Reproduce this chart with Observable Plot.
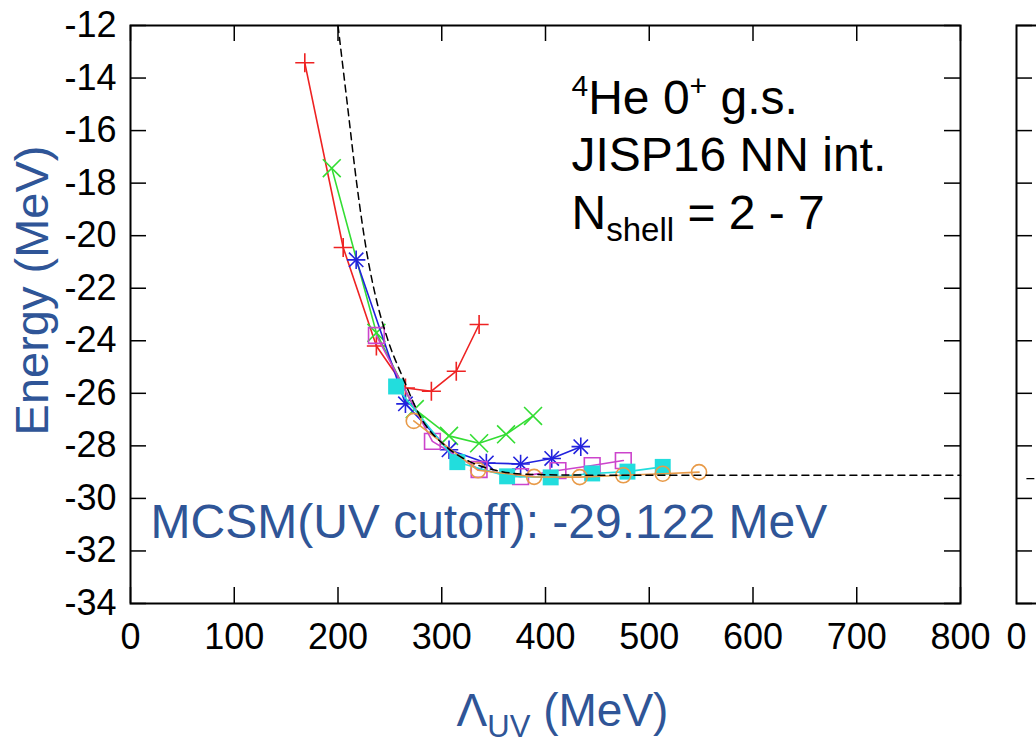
<!DOCTYPE html>
<html>
<head>
<meta charset="utf-8">
<script src="https://cdn.jsdelivr.net/npm/d3@7"></script>
<script src="https://cdn.jsdelivr.net/npm/@observablehq/plot@0.6"></script>
<style>
  html, body { margin: 0; padding: 0; background: #fff; overflow: hidden; }
  #wrap { position: relative; width: 1036px; height: 746px; overflow: hidden; background: #fff; }
  #main, #side { position: absolute; top: 0; }
  #main { left: 0; width: 1036px; }
  #side { left: 1006px; width: 900px; }
  #wrap svg { max-width: none !important; }
</style>
</head>
<body>
<div id="wrap"><div id="main"></div><div id="side"></div></div>
<script>
// ---------- data ----------
const xTicks = [0, 100, 200, 300, 400, 500, 600, 700, 800];
const yTicks = [-12, -14, -16, -18, -20, -22, -24, -26, -28, -30, -32, -34];

// N_shell = 2 (red +)
const lambdaN2 = [168, 205, 237, 265, 290, 314, 336];
const energyN2 = [-13.42, -20.45, -24.2, -25.8, -25.92, -25.16, -23.38];
// N_shell = 3 (green x)
const lambdaN3 = [194, 237, 274, 307, 336, 362, 388];
const energyN3 = [-17.43, -23.7, -26.6, -27.62, -27.9, -27.56, -26.86];
// N_shell = 4 (blue *)
const lambdaN4 = [217.5, 265, 307, 343, 376, 406, 434];
const energyN4 = [-20.92, -26.4, -28.15, -28.65, -28.69, -28.48, -28.03];
// N_shell = 5 (magenta open square)
const lambdaN5 = [237, 291, 336, 376, 412, 445, 475];
const energyN5 = [-23.8, -27.83, -28.9, -29.17, -28.94, -28.75, -28.56];
// N_shell = 6 (cyan filled square)
const lambdaN6 = [256, 315, 363, 405, 445, 479, 513];
const energyN6 = [-25.74, -28.62, -29.16, -29.2, -29.05, -28.98, -28.8];
// N_shell = 7 (orange open circle)
const lambdaN7 = [273, 335, 389, 433, 475, 513, 548];
const energyN7 = [-27.05, -28.93, -29.18, -29.19, -29.12, -29.06, -29.0];

// extrapolation curve (black dashed)
const fitLambda = [200, 209, 218, 228, 238, 247.5, 263, 279.5, 305, 328, 353, 376, 420, 500, 600, 700, 800];
const fitEnergy = [-12, -15, -18, -20.7, -22.6, -23.9, -25.45, -26.9, -28.05, -28.62, -28.94, -29.07, -29.11, -29.12, -29.122, -29.122, -29.122];

// neighbouring panel (only its left edge is visible)
const sideTicks = [0];
const sideLambda = [10, 800];
const sideEnergy = [-29.25, -29.25];

// texts
const xLabel = "ΛUV (MeV)";
const yLabel = "Energy (MeV)";
const mcsmText = "MCSM(UV cutoff): -29.122 MeV";
const noteLines = ["4He 0+ g.s.", "JISP16 NN int.", "Nshell = 2 - 7"];

// ---------- chart ----------
const W = 1036, H = 746;
const mL = 130, mR = 76, mT = 25, mB = 143;
const FW = W - mL - mR, FH = H - mT - mB;
const TICK = 16;
const blue = "#2f5597";
const font = "'Liberation Sans', Arial, Helvetica, sans-serif";
const tickFont = 36;

const table = (xs, ys) => xs.map((x, i) => ({x, y: ys[i]}));

const series = [
  {data: table(lambdaN2, energyN2), color: "#ee2222", dots: [{symbol: "plus", r: 6.2}]},
  {data: table(lambdaN3, energyN3), color: "#33dd33", dots: [{symbol: "times", r: 8.2}]},
  {data: table(lambdaN4, energyN4), color: "#2222dd", dots: [{symbol: "plus", r: 6}, {symbol: "times", r: 6.6}]},
  {data: table(lambdaN5, energyN5), color: "#cc44cc", dots: [{symbol: "square2", r: 10}]},
  {data: table(lambdaN6, energyN6), color: "#22dddd", dots: [{symbol: "square", r: 9, filled: true}]},
  {data: table(lambdaN7, energyN7), color: "#e89a48", dots: [{symbol: "circle", r: 7.5}]}
];

const seriesMarks = series.flatMap(s => [
  Plot.line(s.data, {x: "x", y: "y", stroke: s.color, strokeWidth: 1.6}),
  ...s.dots.map(d => Plot.dot(s.data, {
    x: "x", y: "y", symbol: d.symbol, r: d.r,
    fill: d.filled ? s.color : "none",
    stroke: d.filled ? "none" : s.color,
    strokeWidth: 1.6
  }))
]);

const main = Plot.plot({
  width: W, height: H,
  marginLeft: mL, marginRight: mR, marginTop: mT, marginBottom: mB,
  style: {fontFamily: font, fontSize: tickFont + "px", background: "white", color: "black"},
  x: {domain: [0, 800], label: null},
  y: {domain: [-34, -12], label: null},
  marks: [
    // inward ticks on all four sides
    Plot.ruleX(xTicks, {x: d => d, insetTop: FH - TICK, stroke: "black", strokeWidth: 1.5}),
    Plot.ruleX(xTicks, {x: d => d, insetBottom: FH - TICK, stroke: "black", strokeWidth: 1.5}),
    Plot.ruleY(yTicks, {y: d => d, insetRight: FW - TICK, stroke: "black", strokeWidth: 1.5}),
    Plot.ruleY(yTicks, {y: d => d, insetLeft: FW - TICK, stroke: "black", strokeWidth: 1.5}),
    Plot.axisX({ticks: xTicks, tickSize: 0, tickPadding: 20, tickFormat: d => String(d), fontSize: tickFont, label: null}),
    Plot.axisY({ticks: yTicks, tickSize: 0, tickPadding: 14, tickFormat: d => String(d), fontSize: tickFont, label: null}),
    ...seriesMarks,
    Plot.line(table(fitLambda, fitEnergy), {x: "x", y: "y", curve: "monotone-x", stroke: "black", strokeWidth: 1.5, strokeDasharray: "7,5"}),
    Plot.frame({stroke: "black", strokeWidth: 2}),
    // annotations
    Plot.text([noteLines[0]], {frameAnchor: "top-left", textAnchor: "start", lineAnchor: "bottom", dx: 441, dy: 88, fontSize: 48, fill: "black"}),
    Plot.text([noteLines[1]], {frameAnchor: "top-left", textAnchor: "start", lineAnchor: "bottom", dx: 441, dy: 145, fontSize: 48, fill: "black"}),
    Plot.text([noteLines[2]], {frameAnchor: "top-left", textAnchor: "start", lineAnchor: "bottom", dx: 441, dy: 203, fontSize: 48, fill: "black"}),
    Plot.text([mcsmText], {frameAnchor: "bottom-left", textAnchor: "start", dx: 20, dy: -66, fontSize: 48, fill: blue}),
    Plot.text([yLabel], {frameAnchor: "left", textAnchor: "middle", rotate: -90, dx: -98, dy: -24, fontSize: 47, fill: blue}),
    Plot.text([xLabel], {frameAnchor: "bottom", textAnchor: "middle", dx: 17, dy: 122, fontSize: 46, fill: blue})
  ]
});
document.getElementById("main").appendChild(main);

const side = Plot.plot({
  width: FW + 20, height: H,
  marginLeft: 10, marginRight: 10, marginTop: mT, marginBottom: mB,
  style: {fontFamily: font, fontSize: tickFont + "px", background: "transparent", color: "black"},
  x: {domain: [0, 800], label: null},
  y: {domain: [-34, -12], label: null, axis: null},
  marks: [
    Plot.ruleY(yTicks, {y: d => d, insetRight: FW - TICK, stroke: "black", strokeWidth: 1.5}),
    Plot.axisX({ticks: sideTicks, tickSize: 0, tickPadding: 20, tickFormat: d => String(d), fontSize: tickFont, label: null}),
    Plot.line(table(sideLambda, sideEnergy), {x: "x", y: "y", stroke: "black", strokeWidth: 1.2, strokeDasharray: "7,5"}),
    Plot.frame({stroke: "black", strokeWidth: 2})
  ]
});
document.getElementById("side").appendChild(side);

// ---------- rich text (super/subscripts) ----------
const NS = "http://www.w3.org/2000/svg";
function rich(svg, match, parts) {
  svg.querySelectorAll("text").forEach(t => {
    if (t.textContent !== match) return;
    while (t.firstChild) t.removeChild(t.firstChild);
    let shift = 0;
    for (const p of parts) {
      const ts = document.createElementNS(NS, "tspan");
      const target = p.shift || 0;
      ts.setAttribute("dy", target - shift);
      shift = target;
      if (p.size) ts.setAttribute("font-size", p.size);
      ts.textContent = p.text;
      t.appendChild(ts);
    }
  });
}
rich(main, noteLines[0], [
  {text: "4", size: 30, shift: -18}, {text: "He 0"}, {text: "+", size: 30, shift: -18}, {text: " g.s."}
]);
rich(main, noteLines[2], [
  {text: "N"}, {text: "shell", size: 33, shift: 12}, {text: " = 2 - 7"}
]);
rich(main, xLabel, [
  {text: "Λ"}, {text: "UV", size: 31, shift: 11}, {text: " (MeV)"}
]);
</script>
</body>
</html>
